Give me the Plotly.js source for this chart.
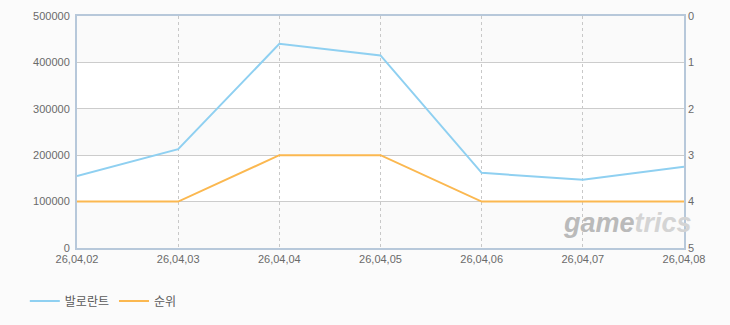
<!DOCTYPE html>
<html>
<head>
<meta charset="utf-8">
<script src="https://cdn.plot.ly/plotly-3.0.1.min.js"></script>
<style>html,body{margin:0;padding:0;background:#fbfbfb;}</style>
</head>
<body>
<div id="chart" style="width:730px;height:325px;"></div>
<script>
const dates = ["26,04,02","26,04,03","26,04,04","26,04,05","26,04,06","26,04,07","26,04,08"];
const players = [155000, 213000, 440000, 415000, 162000, 147000, 175000];
const ranks = [4, 4, 3, 3, 4, 4, 4];
const leftTicks = [0, 100000, 200000, 300000, 400000, 500000];
const rightTicks = [0, 1, 2, 3, 4, 5];

const font = {family: "Liberation Sans, Arial, sans-serif", size: 11, color: "#6a6a6a"};
const borderColor = "#b7c8da";

const traces = [
  {x: dates, y: players, name: "발로란트", type: "scatter", mode: "lines",
   line: {color: "#8fd0f1", width: 2}, yaxis: "y"},
  {x: dates, y: ranks, name: "순위", type: "scatter", mode: "lines",
   line: {color: "#fbb850", width: 2}, yaxis: "y2"}
];

const bands = [];
for (let i = 0; i < leftTicks.length - 1; i += 2) {
  bands.push({type: "rect", xref: "paper", yref: "y", x0: 0, x1: 1,
    y0: leftTicks[i], y1: leftTicks[i + 1], fillcolor: "#fafafa", line: {width: 0}, layer: "below"});
}

const layout = {
  width: 730, height: 325,
  paper_bgcolor: "#fbfbfb", plot_bgcolor: "#ffffff",
  margin: {l: 77, r: 46, t: 16, b: 77},
  font: font,
  showlegend: true,
  legend: {orientation: "h", xref: "container", yref: "container", x: 0.034, xanchor: "left",
    y: 0.074, yanchor: "middle",
    font: {family: "Noto Sans CJK KR, sans-serif", size: 12, color: "#5a5a5a"}, bgcolor: "rgba(0,0,0,0)"},
  xaxis: {type: "category", range: [0, dates.length - 1], showgrid: true, gridcolor: "#c8c8c8",
    griddash: "3px,3px", gridwidth: 1, showline: true, linecolor: borderColor, linewidth: 2, mirror: true,
    ticks: "", tickfont: font, zeroline: false, automargin: false},
  yaxis: {range: [0, 500000], tickvals: leftTicks, ticktext: leftTicks.map(String), showgrid: true,
    gridcolor: "#cccccc", gridwidth: 1, showline: true, linecolor: borderColor, linewidth: 2, mirror: true,
    ticks: "", tickfont: font, zeroline: false, ticklabelstandoff: 3, automargin: false},
  yaxis2: {overlaying: "y", side: "right", range: [5, 0], tickvals: rightTicks, showgrid: false,
    ticks: "", tickfont: font, zeroline: false, showline: false, ticklabelstandoff: 3, automargin: false},
  shapes: bands,
  annotations: [{
    xref: "paper", yref: "paper", x: 1.016, y: 0.035, xanchor: "right", yanchor: "bottom",
    text: "<b><i><span style='color:#bababa'>game</span><span style='color:#d4d4d4'>trics</span></i></b>",
    showarrow: false, font: {family: "Liberation Sans, Arial, sans-serif", size: 27}
  }]
};

Plotly.newPlot("chart", traces, layout, {displayModeBar: false, staticPlot: true});
</script>
</body>
</html>
